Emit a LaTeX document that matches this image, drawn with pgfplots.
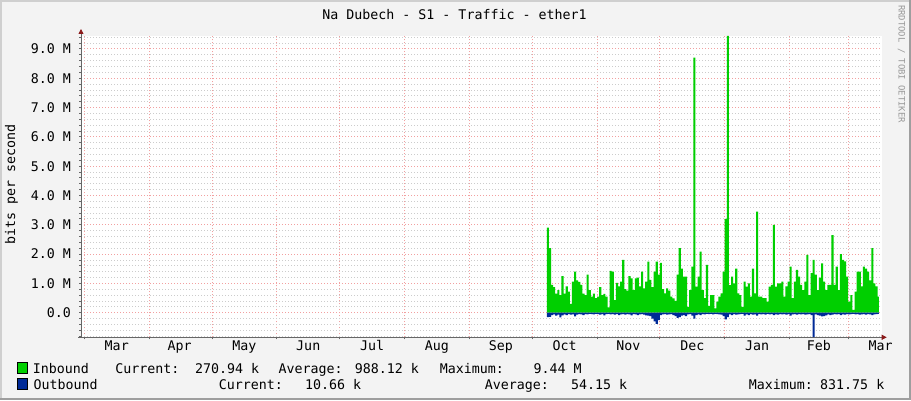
\documentclass[border=0pt]{standalone}
\usepackage{fontspec}
\setmainfont{DejaVu Sans Mono}
\usepackage{pgfplots}
\usepackage{pgfplotstable}
\pgfplotsset{compat=1.18}
\usetikzlibrary{arrows.meta}

\definecolor{canvas}{HTML}{F3F3F3}
\definecolor{inb}{HTML}{00CF00}
\definecolor{outb}{HTML}{002A97}
\definecolor{mgrid}{HTML}{F2A0A0}
\definecolor{mingrid}{HTML}{CCCCCC}
\definecolor{axisgray}{HTML}{666666}
\definecolor{arrowred}{HTML}{8B1A1A}
\newcommand\rrd{\fontsize{13.3bp}{16bp}\selectfont}

% day 0 = 1 Mar, values in Mbit/s (outbound drawn negative)
\pgfplotstableread{
day in out
221 2.90 -0.15
222 2.20 -0.14
223 0.95 -0.08
224 0.87 -0.06
225 0.65 -0.10
226 0.77 -0.07
227 0.60 -0.16
228 1.25 -0.09
229 0.65 -0.06
230 0.90 -0.08
231 0.72 -0.05
232 0.30 -0.07
233 1.06 -0.06
234 1.40 -0.13
235 1.10 -0.07
236 1.05 -0.05
237 0.95 -0.06
238 0.65 -0.08
239 0.60 -0.05
240 1.30 -0.06
241 0.77 -0.04
242 0.55 -0.05
243 0.65 -0.06
244 0.50 -0.04
245 0.55 -0.05
246 0.87 -0.07
247 0.60 -0.05
248 0.64 -0.09
249 0.55 -0.05
250 0.18 -0.04
251 1.43 -0.06
252 1.40 -0.05
253 0.43 -0.07
254 1.02 -0.05
255 0.90 -0.08
256 1.06 -0.06
257 1.80 -0.05
258 0.80 -0.07
259 0.75 -0.05
260 1.25 -0.06
261 1.17 -0.09
262 0.77 -0.05
263 1.17 -0.06
264 1.20 -0.08
265 0.90 -0.06
266 1.40 -0.05
267 0.83 -0.07
268 1.06 -0.09
269 1.74 -0.10
270 1.12 -0.12
271 0.87 -0.20
272 1.40 -0.30
273 1.74 -0.38
274 1.30 -0.25
275 1.70 -0.08
276 0.80 -0.06
277 0.66 -0.05
278 0.83 -0.07
279 0.75 -0.06
280 0.55 -0.05
281 0.49 -0.08
282 0.40 -0.12
283 1.30 -0.18
284 2.20 -0.15
285 1.50 -0.10
286 1.23 -0.08
287 1.23 -0.12
288 0.20 -0.06
289 0.77 -0.05
290 1.57 -0.10
291 8.70 -0.20
292 0.89 -0.08
293 1.23 -0.06
294 2.08 -0.08
295 0.77 -0.05
296 0.50 -0.06
297 1.63 -0.04
298 0.23 -0.05
299 0.60 -0.04
300 0.60 -0.06
301 0.15 -0.04
302 0.38 -0.05
303 0.55 -0.06
304 0.66 -0.07
305 1.40 -0.12
306 3.20 -0.23
307 9.44 -0.15
308 0.94 -0.06
309 1.23 -0.08
310 1.00 -0.05
311 1.50 -0.07
312 0.66 -0.06
313 0.60 -0.05
314 0.20 -0.04
315 1.06 -0.10
316 0.89 -0.06
317 1.00 -0.08
318 0.55 -0.05
319 1.50 -0.07
320 0.66 -0.06
321 3.45 -0.10
322 0.55 -0.05
323 0.55 -0.06
324 0.50 -0.05
325 0.50 -0.07
326 0.38 -0.04
327 0.89 -0.06
328 0.95 -0.05
329 3.00 -0.08
330 0.89 -0.06
331 1.00 -0.07
332 1.00 -0.05
333 1.06 -0.06
334 0.55 -0.05
335 0.90 -0.07
336 1.06 -0.05
337 1.57 -0.10
338 0.50 -0.06
339 1.06 -0.05
340 1.46 -0.07
341 1.23 -0.05
342 0.95 -0.06
343 0.77 -0.05
344 1.06 -0.07
345 1.97 -0.06
346 0.60 -0.05
347 1.35 -0.08
348 1.80 -0.83
349 1.30 -0.06
350 0.77 -0.08
351 1.20 -0.10
352 1.68 -0.13
353 1.06 -0.12
354 0.77 -0.09
355 0.95 -0.06
356 0.95 -0.08
357 2.65 -0.07
358 0.95 -0.05
359 1.57 -0.06
360 0.77 -0.05
361 2.00 -0.08
362 1.80 -0.06
363 1.75 -0.07
364 1.23 -0.05
365 0.38 -0.06
366 0.60 -0.05
367 0.10 -0.04
368 0.72 -0.06
369 1.40 -0.05
370 1.40 -0.07
371 0.90 -0.06
372 1.57 -0.05
373 1.50 -0.07
374 1.40 -0.05
375 1.10 -0.06
376 2.20 -0.08
377 1.00 -0.06
378 0.90 -0.05
379 0.55 -0.04
379.7 0.43 -0.04
}\traffic

\begin{document}
\begin{tikzpicture}[x=1bp,y=1bp]
\path[use as bounding box] (0,0) rectangle (911,400);
\fill[canvas] (0,0) rectangle (911,400);
\fill[black!19] (0,398) rectangle (911,400);
\fill[black!19] (0,0) rectangle (2,400);
\fill[black!38] (0,0) rectangle (911,2);
\fill[black!38] (909,0) rectangle (911,400);

\begin{axis}[
  at={(81bp,62.7bp)}, anchor=south west,
  scale only axis, width=800.7bp, height=301.3bp,
  xmin=-1.58, xmax=381, ymin=-0.84, ymax=9.44,
  axis background/.style={fill=white},
  axis x line=bottom, axis y line=left,
  x axis line style={axisgray, line width=0.8bp, shorten <=-3bp, shorten >=-5bp,
    -{Triangle[length=5bp,width=5bp,color=arrowred]}},
  y axis line style={axisgray, line width=0.8bp, shorten >=-7bp,
    -{Triangle[length=5bp,width=5bp,color=arrowred]}},
  xtick={0,31,61,92,122,153,184,214,245,275,306,337,365},
  xticklabels={},
  extra x ticks={15.5,45.5,76.5,107,137.5,168.5,199,229.5,260,290.5,321.5,351,380.5},
  extra x tick labels={Mar,Apr,May,Jun,Jul,Aug,Sep,Oct,Nov,Dec,Jan,Feb,Mar},
  extra x tick style={grid=none, major tick length=0pt},
  xticklabel style={font=\rrd, anchor=base, inner sep=0pt, yshift=-13.4bp},
  ytick={0,1,2,3,4,5,6,7,8,9},
  yticklabels={0.0,1.0 M,2.0 M,3.0 M,4.0 M,5.0 M,6.0 M,7.0 M,8.0 M,9.0 M},
  minor ytick={-0.8,-0.6,-0.4,-0.2,0.2,0.4,0.6,0.8,1.2,1.4,1.6,1.8,2.2,2.4,2.6,2.8,
    3.2,3.4,3.6,3.8,4.2,4.4,4.6,4.8,5.2,5.4,5.6,5.8,6.2,6.4,6.6,6.8,
    7.2,7.4,7.6,7.8,8.2,8.4,8.6,8.8,9.2,9.4},
  yticklabel style={font=\rrd, anchor=base east, inner sep=0pt, xshift=-8bp, yshift=-4.9bp},
  grid=both,
  major grid style={mgrid, line width=0.8bp, dash pattern=on 1bp off 2bp},
  minor grid style={mingrid, line width=0.8bp, dash pattern=on 1bp off 2bp},
  tick align=outside, major tick length=2bp, minor tick length=2bp,
  tick style={axisgray, line width=0.8bp},
]
\addplot[const plot, fill=inb, draw=none] table[x=day, y=in] {\traffic} \closedcycle;
\addplot[const plot, fill=outb, draw=none] table[x=day, y=out] {\traffic} \closedcycle;
\end{axis}

\node[anchor=base, inner sep=0pt, font=\rrd] at (454.5,380.7) {Na Dubech - S1 - Traffic - ether1};
\node[rotate=90, anchor=base, inner sep=0pt, font=\rrd] at (15,215.5) {bits per second};
\node[rotate=-90, anchor=base west, inner sep=0pt, text=black!40,
  font=\fontsize{8.9bp}{10bp}\selectfont] at (898.5,395) {RRDTOOL / TOBI OETIKER};

% legend
\fill[inb] (17.4,26.7) rectangle (27.3,37.3);
\draw[black, line width=0.8bp] (17.4,26.7) rectangle (27.3,37.3);
\fill[outb] (17.4,10.7) rectangle (27.3,21.3);
\draw[black, line width=0.8bp] (17.4,10.7) rectangle (27.3,21.3);
\begin{scope}[every node/.style={anchor=base west, inner sep=0pt, font=\rrd}]
\node at (32.7,27) {Inbound};
\node at (115.2,27) {Current:};
\node at (194.8,27) {270.94 k};
\node at (278.5,27) {Average:};
\node at (354.6,27) {988.12 k};
\node at (439.6,27) {Maximum:};
\node at (533.5,27) {9.44 M};
\node at (33.5,11) {Outbound};
\node at (218.6,11) {Current:};
\node at (305,11) {10.66 k};
\node at (484.7,11) {Average:};
\node at (571,11) {54.15 k};
\node at (748.7,11) {Maximum:};
\node at (820,11) {831.75 k};
\end{scope}
\end{tikzpicture}
\end{document}
